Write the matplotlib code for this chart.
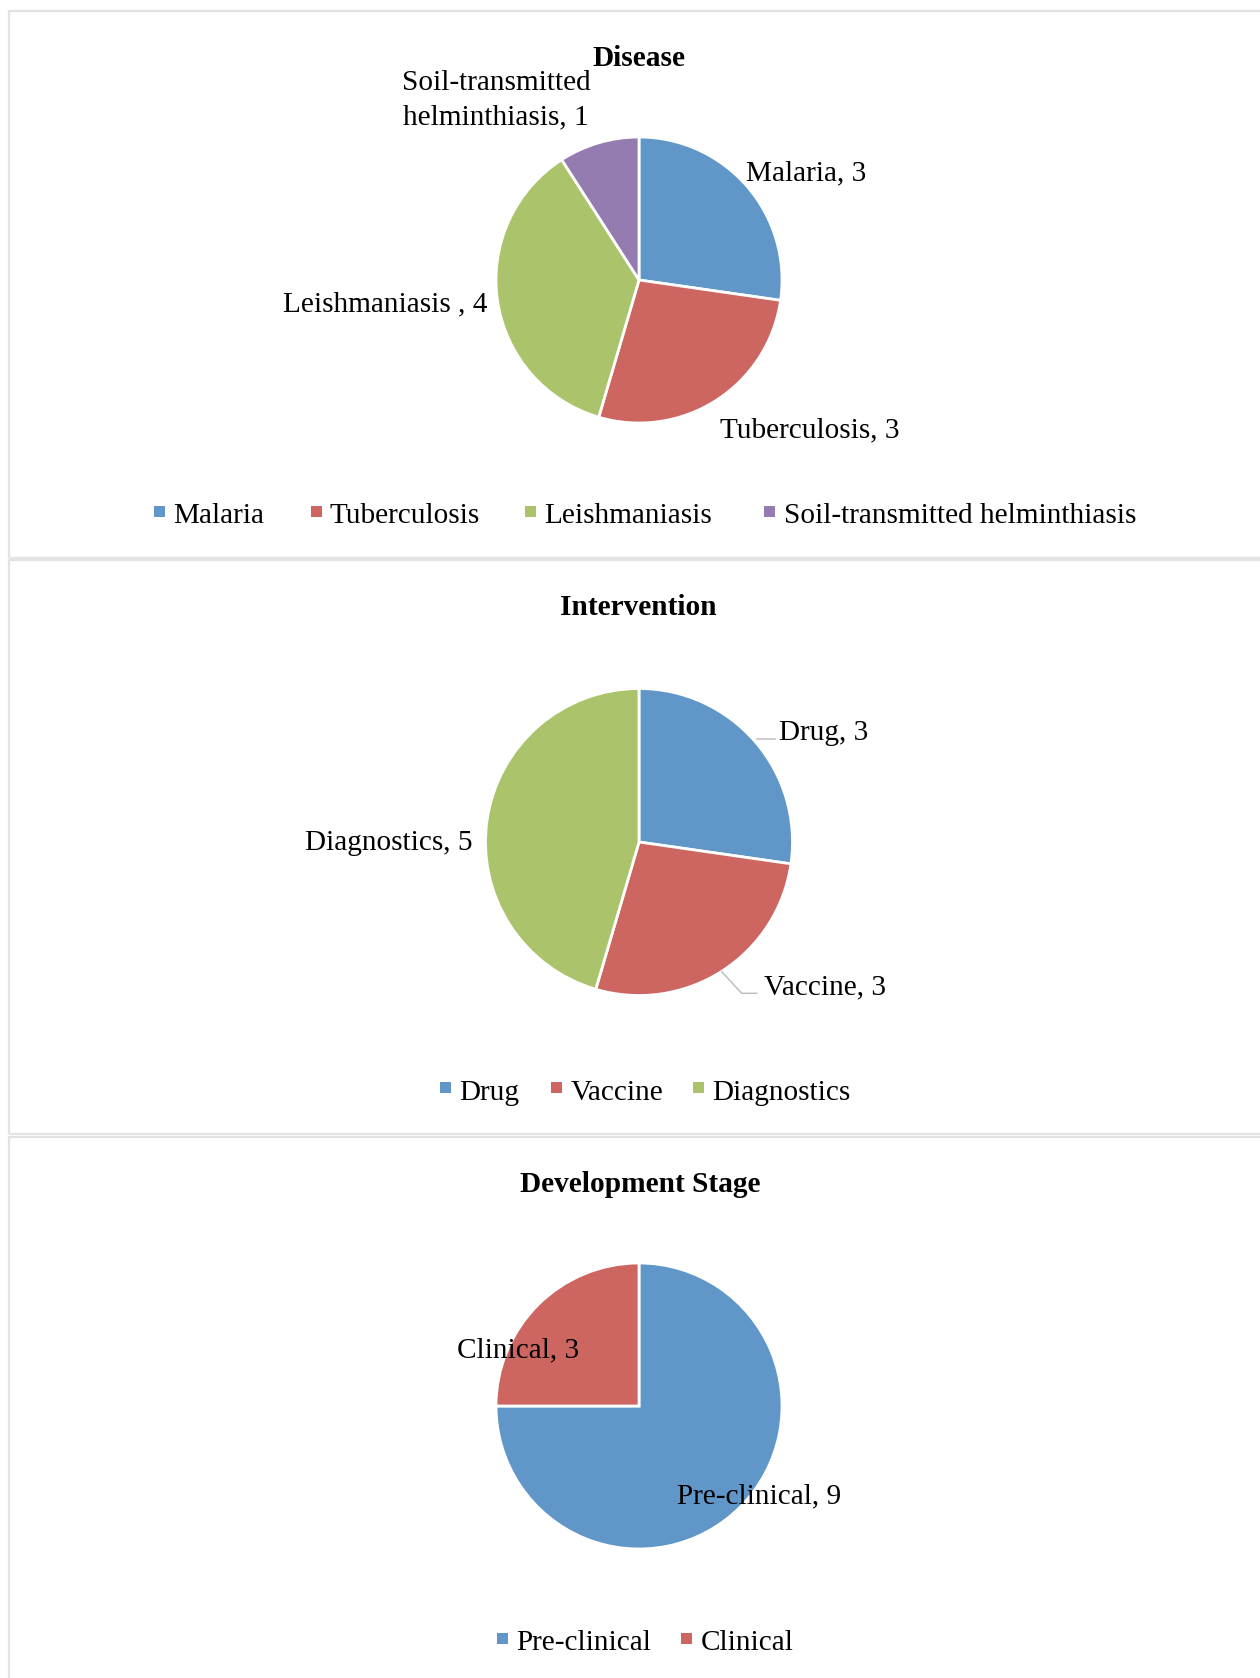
import matplotlib
matplotlib.use("Agg")
import matplotlib.pyplot as plt
from matplotlib.patches import Rectangle

plt.rcParams['font.family'] = ['Liberation Serif', 'DejaVu Serif']

# ---------------- data ----------------
disease_cats = ["Malaria", "Tuberculosis", "Leishmaniasis", "Soil-transmitted helminthiasis"]
disease_label_names = ["Malaria", "Tuberculosis", "Leishmaniasis ", "Soil-transmitted\nhelminthiasis"]
disease_vals = [3, 3, 4, 1]

intervention_cats = ["Drug", "Vaccine", "Diagnostics"]
intervention_vals = [3, 3, 5]

stage_cats = ["Pre-clinical", "Clinical"]
stage_vals = [9, 3]

colors = ["#6096C8", "#CD6660", "#ABC46C", "#947BB0"]

W, H = 1260, 1678
fig = plt.figure(figsize=(W / 100, H / 100), dpi=100)
ax = fig.add_axes([0, 0, 1, 1])


def Y(p):
    return H - p


LABEL_FS = 21.1
TITLE_FS = 21.2
LEG_FS = 21.1
border = "#E3E3E3"

# panel frames
for top, bot in [(11, 558), (560, 1134), (1137, 1690)]:
    ax.add_patch(Rectangle((9, Y(bot)), 1300, bot - top, fill=False,
                           edgecolor=border, linewidth=1.6, zorder=0))


def draw_pie(vals, cx, cy, r):
    wedges, _ = ax.pie(vals, colors=colors[:len(vals)], startangle=90, counterclock=False,
                       center=(cx, Y(cy)), radius=r,
                       wedgeprops=dict(edgecolor="white", linewidth=2.0))
    return wedges


def label(text, x, base, ha="center"):
    lines = text.split("\n")
    for i, ln in enumerate(lines):
        ax.text(x, Y(base + i * 35), ln, ha=ha, va="baseline", fontsize=LABEL_FS, color="black")


def legend(cats, text_starts, base):
    for i, (c, xs) in enumerate(zip(cats, text_starts)):
        ax.add_patch(Rectangle((xs - 19.5, Y(base - 6.5)), 11, 11, facecolor=colors[i],
                               edgecolor="none"))
        ax.text(xs, Y(base), c, ha="left", va="baseline", fontsize=LEG_FS, color="black")


# ---------------- Disease ----------------
draw_pie(disease_vals, 639, 280, 143)
ax.text(639, Y(66.5), "Disease", ha="center", va="baseline", fontsize=TITLE_FS, fontweight="bold")
d_pos = [(806, 180), (810, 437.5), (385, 311), (496, 89.5)]
for n, v, (x, b) in zip(disease_label_names, disease_vals, d_pos):
    label(f"{n}, {v}", x, b)
legend(disease_cats, [173, 330, 544, 783.5], 523)

# ---------------- Intervention ----------------
draw_pie(intervention_vals, 639, 842, 153.5)
ax.text(638, Y(615), "Intervention", ha="center", va="baseline", fontsize=TITLE_FS, fontweight="bold")
i_pos = [(824, 740), (825, 994), (389, 849.5)]
for n, v, (x, b) in zip(intervention_cats, intervention_vals, i_pos):
    label(f"{n}, {v}", x, b)
ax.plot([757, 775], [Y(739), Y(739)], color="#BFBFBF", lw=1.1)
ax.plot([721.7, 741.7, 756.7], [Y(971.7), Y(993.3), Y(993.3)], color="#BFBFBF", lw=1.1)
legend(intervention_cats, [459.6, 570.5, 712], 1099.5)

# ---------------- Development Stage ----------------
draw_pie(stage_vals, 639, 1406, 143)
ax.text(640, Y(1191.5), "Development Stage", ha="center", va="baseline", fontsize=TITLE_FS,
        fontweight="bold")
s_pos = [(759, 1503), (518, 1357.5)]
for n, v, (x, b) in zip(stage_cats, stage_vals, s_pos):
    label(f"{n}, {v}", x, b)
legend(stage_cats, [516.7, 700.7], 1650)

ax.set_xlim(0, W)
ax.set_ylim(0, H)
ax.set_aspect("auto")
ax.set_axis_off()

fig.savefig("out.png", dpi=100, facecolor="white")
